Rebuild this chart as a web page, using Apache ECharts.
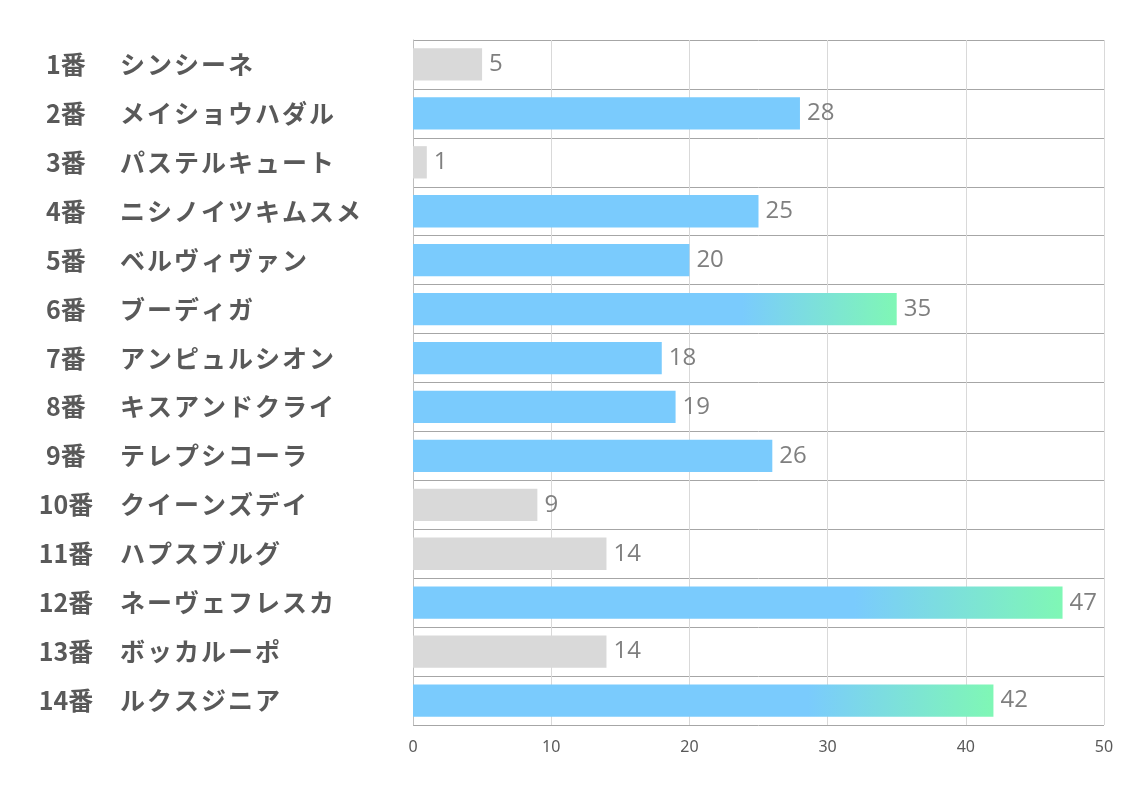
<!DOCTYPE html>
<html><head><meta charset="utf-8">
<script src="https://cdn.jsdelivr.net/npm/echarts@6/dist/echarts.min.js"></script>
<style>html,body{margin:0;padding:0;background:#fff}#c{width:1134px;height:793px}</style>
</head><body><div id="c"></div>
<script>
const numbers = ['1番','2番','3番','4番','5番','6番','7番','8番','9番','10番','11番','12番','13番','14番'];
const names = ['シンシーネ','メイショウハダル','パステルキュート','ニシノイツキムスメ','ベルヴィヴァン','ブーディガ','アンピュルシオン','キスアンドクライ','テレプシコーラ','クイーンズデイ','ハプスブルグ','ネーヴェフレスカ','ボッカルーポ','ルクスジニア'];
const values = [5,28,1,25,20,35,18,19,26,9,14,47,14,42];
const xTicks = [0,10,20,30,40,50];

const categories = numbers.map((n,i)=>n+'|'+names[i]);
const sorted = values.slice().sort((a,b)=>b-a);
const top3 = sorted[2];
const BLUE = '#7acbfd', GRAY = '#d9d9d9', GREEN = '#7ff7b5';
const grad = new echarts.graphic.LinearGradient(0,0,1,0,[
  {offset:0,color:BLUE},{offset:0.68,color:BLUE},{offset:1,color:GREEN}]);
const data = values.map(v=>({value:v,itemStyle:{color: v>=top3 ? grad : (v<15 ? GRAY : BLUE)}}));

const labelFont = {fontSize:25,fontWeight:'bold',color:'#595959',fontFamily:'Noto Sans CJK JP'};
const chart = echarts.init(document.getElementById('c'));
chart.setOption({
  animation:false,
  grid:{left:413,right:30,top:40,bottom:68,containLabel:false},
  xAxis:{type:'value',min:xTicks[0],max:xTicks[xTicks.length-1],interval:xTicks[1]-xTicks[0],
    axisLine:{show:false},axisTick:{show:false},
    splitLine:{show:true,lineStyle:{color:'#d9d9d9',width:1}},
    axisLabel:{color:'#595959',fontSize:16,fontFamily:'Noto Sans',margin:14}},
  yAxis:{type:'category',data:categories,inverse:true,
    axisLine:{show:true,lineStyle:{color:'#bfbfbf'}},axisTick:{show:false},
    splitLine:{show:true,lineStyle:{color:'#a6a6a6',width:1}},
    axisLabel:{align:'left',margin:373,
      formatter:function(v){
        const p=v.split('|');
        return '{a|'+p[0]+'}{s|}'+Array.from(p[1]).map(ch=>'{c|'+ch+'}').join('');
      },
      rich:{
        a:Object.assign({width:52,align:'right'},labelFont),
        s:{width:27},
        c:Object.assign({width:27,align:'center'},labelFont)
      }}},
  series:[{type:'bar',data:data,barWidth:'66%',
    label:{show:true,position:'right',distance:7,color:'#7f7f7f',fontSize:24,fontFamily:'Open Sans'}}]
});
</script></body></html>
